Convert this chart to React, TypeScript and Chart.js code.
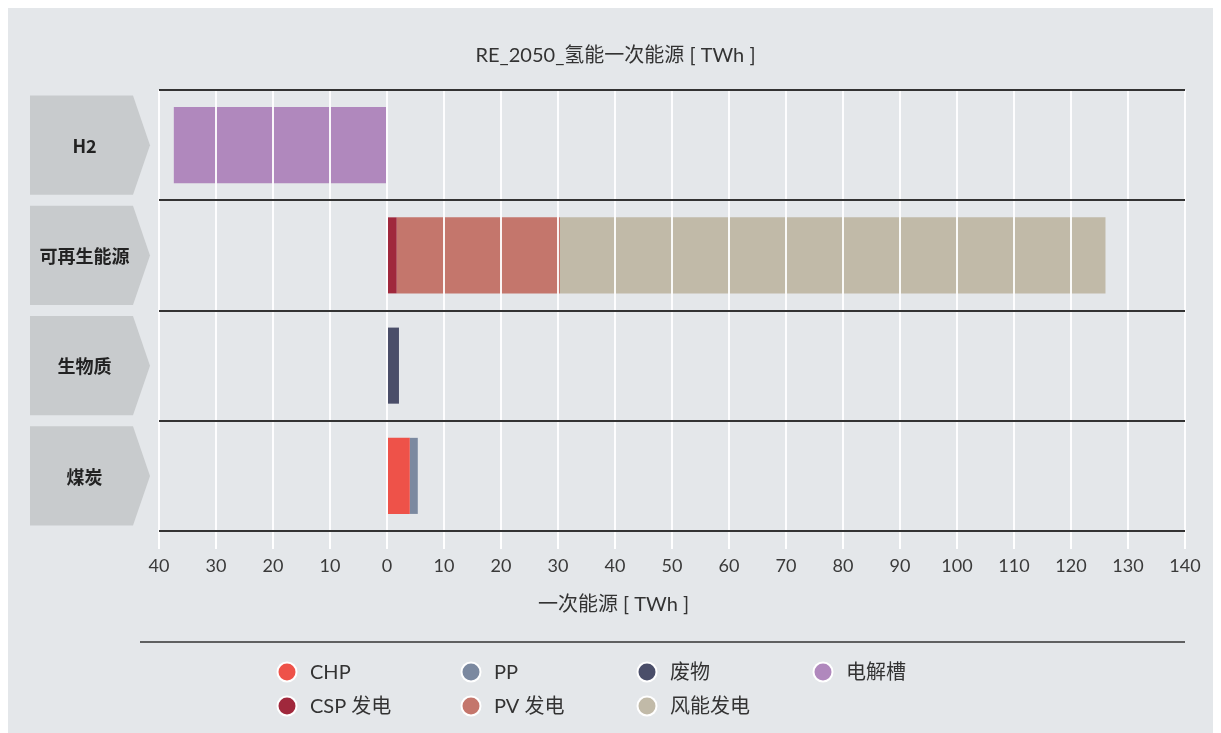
import { useEffect, useRef } from "react";
import { Chart, registerables } from "chart.js";

Chart.register(...registerables);

// Categories (rows) and series values in TWh; null = no contribution
const categories = ["H2", "可再生能源", "生物质", "煤炭"];
const chpValues = [null, null, null, 4.0];
const ppValues = [null, null, null, 1.4];
const wasteValues = [null, null, 2.1, null];
const electrolyserValues = [-37.4, null, null, null];
const cspValues = [null, 1.7, null, null];
const pvValues = [null, 28.65, null, null];
const windValues = [null, 95.7, null, null];

const seriesLabels = ["CHP", "PP", "废物", "电解槽", "CSP 发电", "PV 发电", "风能发电"];
const seriesColors = ["#ee5249", "#7b89a0", "#4a4e69", "#b088bd", "#a0283c", "#c4766c", "#c1baa8"];

const xMin = -40;
const xMax = 140;
const xStep = 10;

const chartTitle = "RE_2050_氢能一次能源 [ TWh ]";
const xAxisTitle = "一次能源 [ TWh ]";

const BG = "#e4e7ea";
const FONT = "Lato, 'Noto Sans CJK SC', sans-serif";
const CJK_BOLD = "'Noto Sans CJK SC', 'Noto Sans', sans-serif";

// Background, row labels with chevrons, titles and the grid-style legend
const decorPlugin = {
  id: "decor",
  beforeDraw(chart: any) {
    const { ctx, width, height } = chart;
    ctx.save();
    ctx.fillStyle = BG;
    ctx.fillRect(0, 0, width, height);
    ctx.restore();
  },
  afterDraw(chart: any) {
    const { ctx, width } = chart;
    const yScale = chart.scales.y;
    const band = (yScale.bottom - yScale.top) / categories.length;
    ctx.save();

    // Row labels on chevron shapes
    categories.forEach((label, i) => {
      const cy = yScale.getPixelForValue(i);
      const half = band / 2 - 5.5;
      const left = 22;
      const rectRight = 125;
      const tip = 142;
      ctx.beginPath();
      ctx.moveTo(left, cy - half);
      ctx.lineTo(rectRight, cy - half);
      ctx.lineTo(tip, cy);
      ctx.lineTo(rectRight, cy + half);
      ctx.lineTo(left, cy + half);
      ctx.closePath();
      ctx.fillStyle = "#c8cbcd";
      ctx.fill();
      ctx.fillStyle = "#222";
      ctx.font = `bold 18px ${CJK_BOLD}`;
      ctx.textAlign = "center";
      ctx.textBaseline = "middle";
      ctx.fillText(label, 76.5, cy + 1);
    });

    // Chart title and x-axis title
    ctx.fillStyle = "#333";
    ctx.font = `20px ${FONT}`;
    ctx.textAlign = "center";
    ctx.textBaseline = "middle";
    ctx.fillText(chartTitle, width / 2 + 1, 48);
    ctx.fillText(xAxisTitle, width / 2 - 1, 597);

    // Legend separator
    ctx.strokeStyle = "#333";
    ctx.lineWidth = 1.5;
    ctx.beginPath();
    ctx.moveTo(132, 634);
    ctx.lineTo(1177, 634);
    ctx.stroke();

    // Legend items in four columns
    const cols = [279, 463, 639, 815];
    const rows = [664, 698];
    chart.data.datasets.forEach((ds: any, i: number) => {
      const x = cols[i % 4];
      const y = rows[Math.floor(i / 4)];
      ctx.beginPath();
      ctx.arc(x, y, 10.5, 0, Math.PI * 2);
      ctx.fillStyle = "#ffffff";
      ctx.fill();
      ctx.beginPath();
      ctx.arc(x, y, 8.5, 0, Math.PI * 2);
      ctx.fillStyle = ds.backgroundColor;
      ctx.fill();
      ctx.fillStyle = "#333";
      ctx.font = `20px ${FONT}`;
      ctx.textAlign = "left";
      ctx.textBaseline = "middle";
      ctx.fillText(ds.label, x + 23, y + 1);
    });

    ctx.restore();
  },
};

export default function App() {
  const canvasRef = useRef<HTMLCanvasElement | null>(null);

  useEffect(() => {
    document.documentElement.style.overflow = "hidden";
    const canvas = canvasRef.current;
    if (!canvas) return;

    const seriesValues = [chpValues, ppValues, wasteValues, electrolyserValues, cspValues, pvValues, windValues];

    const chart = new Chart(canvas, {
      type: "bar",
      data: {
        labels: categories,
        datasets: seriesValues.map((values, i) => ({
          label: seriesLabels[i],
          data: values,
          backgroundColor: seriesColors[i],
          borderWidth: 0,
          categoryPercentage: 1,
          barPercentage: 0.69,
        })),
      },
      options: {
        animation: false,
        responsive: false,
        indexAxis: "y",
        layout: { padding: { top: 82, right: 36, left: 0, bottom: 0 } },
        plugins: {
          legend: { display: false },
          tooltip: { enabled: false },
          title: { display: false },
        },
        scales: {
          x: {
            type: "linear",
            min: xMin,
            max: xMax,
            stacked: true,
            ticks: {
              stepSize: xStep,
              callback: (v: any) => String(Math.abs(Number(v))),
              font: { family: FONT, size: 18 },
              color: "#3a3a3a",
              padding: 6,
              z: 1,
            },
            grid: {
              color: "rgba(255,255,255,0.92)",
              lineWidth: 2,
              drawTicks: true,
              tickLength: 18,
              tickColor: "#ffffff",
              tickWidth: 2,
              z: 1,
            },
            border: { display: false },
            afterFit: (s: any) => {
              s.height = 202;
            },
          },
          y: {
            type: "category",
            stacked: true,
            ticks: { display: false },
            grid: { color: "#333", lineWidth: 2, drawTicks: false, offset: true, z: 2 },
            border: { display: false },
            afterFit: (s: any) => {
              s.width = 151;
            },
          },
        },
      } as any,
      plugins: [decorPlugin],
    });

    return () => chart.destroy();
  }, []);

  return (
    <div style={{ width: 1213, height: 725, background: BG }}>
      <canvas ref={canvasRef} width={1213} height={725} style={{ display: "block" }} />
    </div>
  );
}
